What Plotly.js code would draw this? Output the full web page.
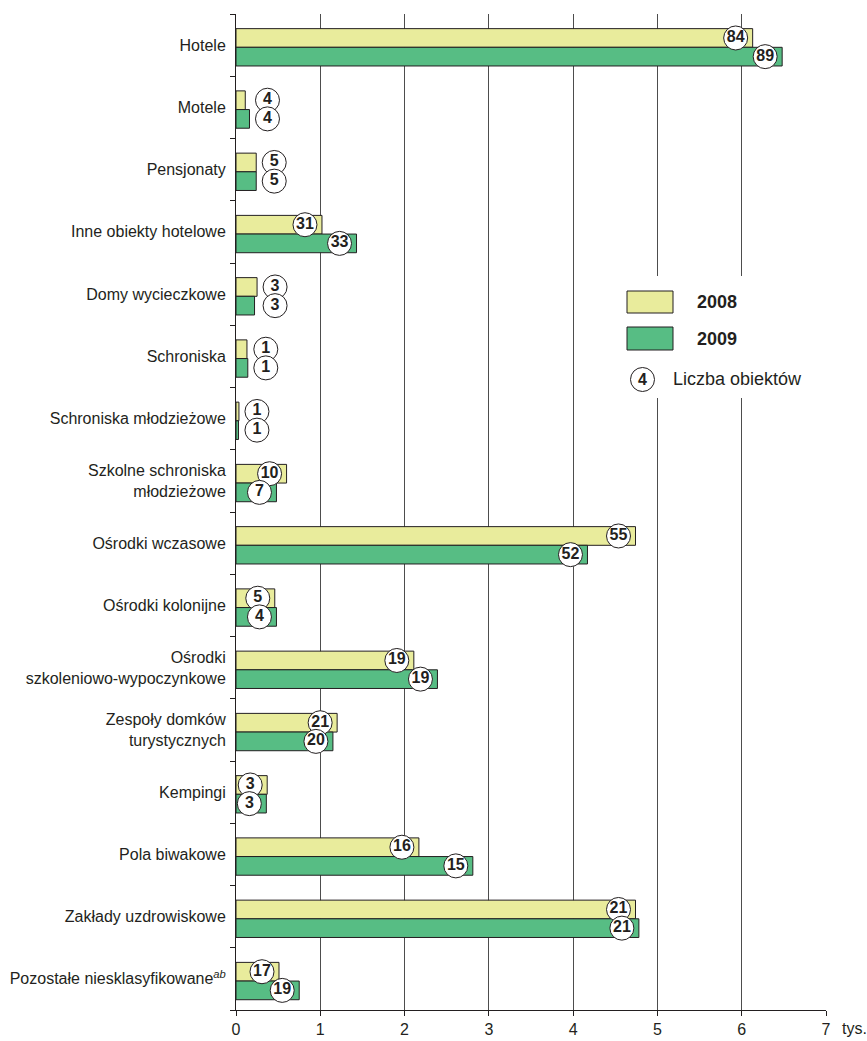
<!DOCTYPE html>
<html>
<head>
<meta charset="utf-8">
<script src="https://cdn.plot.ly/plotly-3.0.1.min.js"></script>
<style>html,body{margin:0;padding:0;background:#fff}#chart{width:867px;height:1041px}</style>
</head>
<body>
<div id="chart"></div>
<script>
// ---- data ----
const categories = [
  "Hotele",
  "Motele",
  "Pensjonaty",
  "Inne obiekty hotelowe",
  "Domy wycieczkowe",
  "Schroniska",
  "Schroniska młodzieżowe",
  "Szkolne schroniska<br>młodzieżowe",
  "Ośrodki wczasowe",
  "Ośrodki kolonijne",
  "Ośrodki<br>szkoleniowo-wypoczynkowe",
  "Zespoły domków<br>turystycznych",
  "Kempingi",
  "Pola biwakowe",
  "Zakłady uzdrowiskowe",
  "Pozostałe niesklasyfikowane<sup><i>ab</i></sup>"
];
const beds2008 = [6.13, 0.11, 0.24, 1.02, 0.25, 0.13, 0.035, 0.60, 4.74, 0.46, 2.11, 1.20, 0.37, 2.17, 4.74, 0.51];
const beds2009 = [6.48, 0.16, 0.24, 1.43, 0.22, 0.14, 0.030, 0.48, 4.17, 0.48, 2.39, 1.15, 0.36, 2.81, 4.78, 0.75];
const count2008 = [84, 4, 5, 31, 3, 1, 1, 10, 55, 5, 19, 21, 3, 16, 21, 17];
const count2009 = [89, 4, 5, 33, 3, 1, 1, 7, 52, 4, 19, 20, 3, 15, 21, 19];
const xTicks = [0, 1, 2, 3, 4, 5, 6, 7];
const seriesNames = ["2008", "2009"];
const legendNote = "Liczba obiektów";
const unitLabel = "tys.";

// ---- styling / geometry ----
const W = 867, H = 1041;
const M = {l: 236, r: 41, t: 14, b: 31};
const PW = W - M.l - M.r, PH = H - M.t - M.b;
const pxPerUnit = PW / 7;
const col2008 = "#e9ec9c", col2009 = "#57bd84", ink = "#231f20";
const barW = 0.30, shift = 0.035;
const idx = categories.map((_, i) => i);

function labelX(v, pairMax) {
  if (pairMax < 0.3) return pairMax + 18 / pxPerUnit;
  return v - 17 / pxPerUnit;
}
const pairMax = beds2008.map((v, i) => Math.max(v, beds2009[i]));
const lx2008 = beds2008.map((v, i) => labelX(v, pairMax[i]));
const lx2009 = beds2009.map((v, i) => labelX(v, pairMax[i]));

const bar2008 = {
  type: "bar", orientation: "h", name: seriesNames[0],
  x: beds2008, y: idx, width: barW, offset: -barW + shift,
  marker: {color: col2008, line: {color: ink, width: 1}}, hoverinfo: "x+y"
};
const bar2009 = {
  type: "bar", orientation: "h", name: seriesNames[1],
  x: beds2009, y: idx, width: barW, offset: shift,
  marker: {color: col2009, line: {color: ink, width: 1}}, hoverinfo: "x+y"
};
const circleFont = {family: "Liberation Sans Narrow, Arial Narrow, Liberation Sans, Arial, sans-serif", size: 16, color: ink, weight: "bold"};
function circles(xs, ys, txt) {
  return {
    type: "scatter", mode: "markers+text", x: xs, y: ys, text: txt.map(String),
    textposition: "middle center", textfont: circleFont, cliponaxis: false,
    marker: {size: 24, color: "#ffffff", line: {color: ink, width: 1}},
    hoverinfo: "skip", showlegend: false
  };
}
const c2008 = circles(lx2008, idx.map(i => i - barW / 2 + shift), count2008);
const c2009 = circles(lx2009, idx.map(i => i + barW / 2 + shift), count2009);

// pixel -> paper helpers for legend
const px = x => (x - M.l) / PW;
const py = y => 1 - (y - M.t) / PH;

const shapes = [
  {type: "rect", xref: "paper", yref: "paper", x0: px(603), x1: px(816), y0: py(276), y1: py(398),
   fillcolor: "#ffffff", line: {width: 0}},
  {type: "rect", xref: "paper", yref: "paper", x0: px(627), x1: px(673), y0: py(291), y1: py(313),
   fillcolor: col2008, line: {color: ink, width: 1}},
  {type: "rect", xref: "paper", yref: "paper", x0: px(627), x1: px(673), y0: py(327), y1: py(350),
   fillcolor: col2009, line: {color: ink, width: 1}},
  {type: "circle", xref: "paper", yref: "paper", x0: px(630.5), x1: px(654.5), y0: py(367.5), y1: py(391.5),
   fillcolor: "#ffffff", line: {color: ink, width: 1}}
];
const legFont = {family: "Liberation Sans, Arial, sans-serif", size: 18, color: ink};
const annotations = [
  {xref: "paper", yref: "paper", x: px(695), y: py(302), xanchor: "left", yanchor: "middle",
   text: seriesNames[0], showarrow: false, font: Object.assign({}, legFont, {weight: "bold"})},
  {xref: "paper", yref: "paper", x: px(695), y: py(339), xanchor: "left", yanchor: "middle",
   text: seriesNames[1], showarrow: false, font: Object.assign({}, legFont, {weight: "bold"})},
  {xref: "paper", yref: "paper", x: px(642.5), y: py(379.5), xanchor: "center", yanchor: "middle",
   text: "4", showarrow: false, font: circleFont},
  {xref: "paper", yref: "paper", x: px(671), y: py(379), xanchor: "left", yanchor: "middle",
   text: legendNote, showarrow: false, font: legFont},
  {xref: "paper", yref: "paper", x: px(840), y: py(1028), xanchor: "left", yanchor: "middle",
   text: unitLabel, showarrow: false, font: {family: "Liberation Sans, Arial, sans-serif", size: 16, color: ink}}
];

const layout = {
  width: W, height: H, margin: M,
  paper_bgcolor: "#ffffff", plot_bgcolor: "#ffffff",
  showlegend: false, barmode: "overlay",
  font: {family: "Liberation Sans, Arial, sans-serif", color: ink},
  xaxis: {
    range: [0, 7], tickmode: "array", tickvals: xTicks, ticktext: xTicks.map(String),
    ticks: "outside", ticklen: 5, tickcolor: ink, showline: true, linecolor: ink, linewidth: 1,
    showgrid: true, gridcolor: "#4d4d4d", gridwidth: 1, zeroline: false,
    tickfont: {size: 16, color: ink}, fixedrange: true
  },
  yaxis: {
    range: [15.5, -0.5], tickmode: "array", tickvals: idx, ticktext: categories,
    ticks: "", showline: true, linecolor: ink, linewidth: 1, showgrid: false, zeroline: false,
    ticklabelstandoff: 6,
    tickfont: {size: 16, color: ink},
    minor: {tickmode: "linear", tick0: 0.5, dtick: 1, ticks: "outside", ticklen: 5, tickcolor: ink, showgrid: false},
    fixedrange: true
  },
  shapes: shapes, annotations: annotations
};

Plotly.newPlot("chart", [bar2008, bar2009, c2008, c2009], layout, {displayModeBar: false, staticPlot: true});
</script>
</body>
</html>
